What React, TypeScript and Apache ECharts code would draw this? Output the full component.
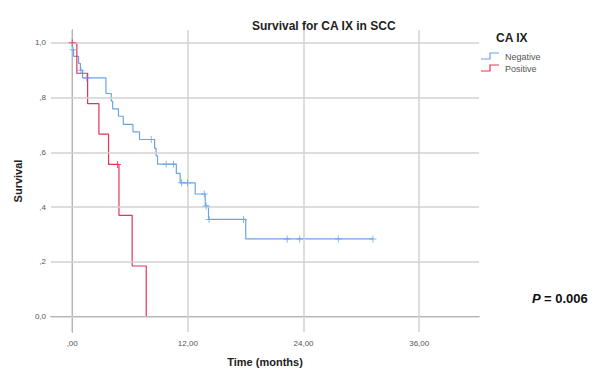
import React, { useEffect, useRef } from "react";
import * as echarts from "echarts";

// Kaplan-Meier steps: [time (months), survival after event]
const negativeSteps: [number, number][] = [
  [0, 1.0], [0.05, 0.975], [0.14, 0.951], [0.66, 0.925], [0.85, 0.9], [1.07, 0.872],
  [3.5, 0.815], [4.05, 0.787], [4.2, 0.759], [4.8, 0.732], [5.3, 0.702], [6.3, 0.675],
  [6.98, 0.647], [8.55, 0.615], [8.7, 0.587], [8.85, 0.557], [10.8, 0.523], [11.2, 0.489],
  [12.76, 0.448], [13.8, 0.404], [14.14, 0.355], [18.0, 0.284], [31.2, 0.284],
];
const negativeCensored: [number, number][] = [
  [0.1, 0.975], [0.9, 0.9], [1.5, 0.872], [8.2, 0.647], [9.75, 0.557], [10.5, 0.557],
  [11.35, 0.489], [11.96, 0.489], [13.7, 0.448], [13.9, 0.404], [14.2, 0.355], [17.77, 0.355],
  [22.3, 0.284], [23.6, 0.284], [27.6, 0.284], [31.2, 0.284],
];
const positiveSteps: [number, number][] = [
  [0, 1.0], [0.48, 0.889], [1.6, 0.778], [2.77, 0.667], [3.77, 0.556],
  [4.85, 0.37], [6.22, 0.185], [7.68, 0.0],
];
const positiveCensored: [number, number][] = [[0, 1.0], [4.7, 0.556]];

const xTicks = [0, 12, 24, 36];
const yTicks = [0, 0.2, 0.4, 0.6, 0.8, 1.0];

const BLUE = "#69a5e6";
const RED = "#e5325a";
const GRID = "#d2d2d2";
const FONT = "Liberation Sans, Arial, sans-serif";
const PLUS = "path://M3,0h1v3h3v1h-3v3h-1v-3h-3v-1h3z";

export default function App() {
  const ref = useRef<HTMLDivElement>(null);
  useEffect(() => {
    if (!ref.current) return;
    const chart = echarts.init(ref.current, undefined, { renderer: "svg" });
    const fmtX = (v: number) => (v === 0 ? ",00" : v.toFixed(2).replace(".", ","));
    const fmtY = (v: number) => {
      const s = v.toFixed(1).replace(".", ",");
      return v === 0 || v === 1 ? s : s.replace(/^0/, "");
    };
    chart.setOption({
      animation: false,
      textStyle: { fontFamily: FONT },
      title: {
        text: "Survival for CA IX in SCC",
        left: 247,
        top: 15,
        textStyle: { fontSize: 12, fontWeight: "bold", color: "#222", fontFamily: FONT },
      },
      grid: { left: 51, top: 30, right: 127, bottom: 40 },
      xAxis: {
        type: "value",
        min: -2.2,
        max: 42.2,
        name: "Time (months)",
        nameLocation: "middle",
        nameGap: 24,
        nameTextStyle: { fontSize: 11, fontWeight: "bold", color: "#222", fontFamily: FONT },
        axisLine: { show: true, lineStyle: { color: "#666", width: 1 } },
        axisTick: { show: false },
        splitLine: { show: false },
        axisLabel: {
          customValues: xTicks,
          formatter: fmtX,
          fontSize: 8,
          color: "#555",
          margin: 7,
          showMinLabel: true,
          showMaxLabel: true,
        },
      },
      yAxis: {
        type: "value",
        min: -0.056,
        max: 1.047,
        name: "Survival",
        nameLocation: "middle",
        nameGap: 28,
        nameRotate: 90,
        nameTextStyle: { fontSize: 11, fontWeight: "bold", color: "#222", fontFamily: FONT },
        axisLine: { show: true, lineStyle: { color: "#666", width: 1 } },
        axisTick: { show: false },
        splitLine: { show: false },
        axisLabel: {
          customValues: yTicks,
          formatter: fmtY,
          fontSize: 8,
          color: "#555",
          margin: 5,
          showMinLabel: true,
          showMaxLabel: true,
        },
      },
      series: [
        {
          type: "scatter",
          data: [[0, 1]],
          symbolSize: 0,
          silent: true,
          z: 1,
          markLine: {
            silent: true,
            symbol: "none",
            label: { show: false },
            lineStyle: { color: GRID, width: 1.5, type: "solid" },
            data: [
              ...yTicks.map((v) => ({ yAxis: v })),
              ...xTicks.map((v) => ({ xAxis: v })),
            ],
          },
        },
        {
          type: "line",
          name: "Negative",
          step: "end",
          data: negativeSteps,
          symbol: "none",
          lineStyle: { color: BLUE, width: 1.2 },
          z: 3,
        },
        {
          type: "line",
          name: "Positive",
          step: "end",
          data: positiveSteps,
          symbol: "none",
          lineStyle: { color: RED, width: 1.2 },
          z: 4,
        },
        {
          type: "scatter",
          data: negativeCensored,
          symbol: PLUS,
          symbolSize: 7,
          itemStyle: { color: BLUE },
          z: 5,
        },
        {
          type: "scatter",
          data: positiveCensored,
          symbol: PLUS,
          symbolSize: 7,
          itemStyle: { color: RED },
          z: 6,
        },
      ],
      graphic: [
        {
          type: "text",
          left: 496,
          top: 32,
          style: { text: "CA IX", fontSize: 12, fontWeight: "bold", fill: "#222", fontFamily: FONT },
        },
        {
          type: "polyline",
          shape: { points: [[481, 59], [490, 59], [490, 53], [499, 53]] },
          style: { stroke: BLUE, lineWidth: 1.2, fill: "none" },
        },
        {
          type: "text",
          left: 505,
          top: 52,
          style: { text: "Negative", fontSize: 9, fill: "#555", fontFamily: FONT },
        },
        {
          type: "polyline",
          shape: { points: [[481, 71], [490, 71], [490, 65], [499, 65]] },
          style: { stroke: RED, lineWidth: 1.2, fill: "none" },
        },
        {
          type: "text",
          left: 505,
          top: 64,
          style: { text: "Positive", fontSize: 9, fill: "#555", fontFamily: FONT },
        },
        {
          type: "text",
          left: 532,
          top: 292,
          style: {
            text: "{p|P} {r|= 0.006}",
            rich: {
              p: { fontSize: 13, fontWeight: "bold", fontStyle: "italic", fill: "#111", fontFamily: FONT },
              r: { fontSize: 13, fontWeight: "bold", fill: "#111", fontFamily: FONT },
            },
          },
        },
      ],
    });
    return () => chart.dispose();
  }, []);
  return <div ref={ref} style={{ width: 606, height: 372, position: "absolute", left: 0, top: 0 }} />;
}
